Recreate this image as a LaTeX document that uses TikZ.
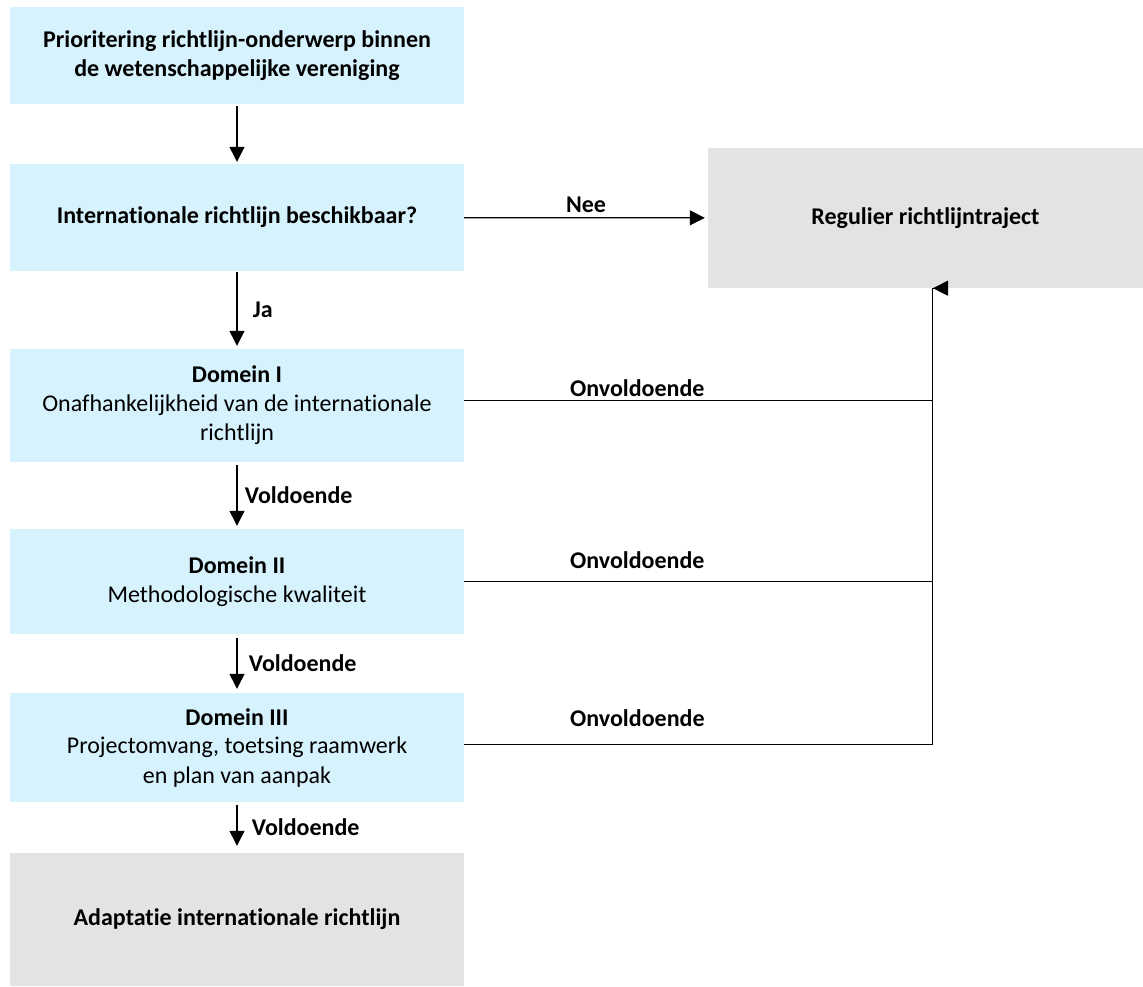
\documentclass[tikz,border=0pt]{standalone}
\usepackage{fontspec}
\setmainfont{Carlito}[Ligatures=NoCommon]
\usepackage{tikz}
\usetikzlibrary{arrows.meta,positioning,calc}
\definecolor{boxblue}{RGB}{214,242,253}
\definecolor{boxgrey}{RGB}{227,227,227}
\newcommand{\diagfont}{\fontsize{24}{29}\selectfont}
\tikzset{
  stepbox/.style={fill=boxblue,align=center,font=\diagfont,
                  minimum width=454pt,inner sep=0pt},
  endbox/.style={fill=boxgrey,align=center,font=\diagfont,inner sep=0pt},
  lbl/.style={font=\diagfont\bfseries},
  conn/.style={line width=1.2pt},
  arr/.style={-{Triangle[length=15pt,width=15pt]},line width=1.2pt},
}

\begin{document}
\begin{tikzpicture}[x=1pt,y=-1pt]
        \useasboundingbox (0,0) rectangle (1143,986);
        \node[stepbox,minimum height=97pt] (prio) at (237,55.5)
          {\textbf{Prioritering richtlijn-onderwerp binnen}\\\textbf{de wetenschappelijke vereniging}};
        \node[stepbox,minimum height=107pt] (intl) at (237,217.5)
          {\textbf{Internationale richtlijn beschikbaar?}};
        \node[endbox,minimum width=435pt,minimum height=140pt] (reg) at (925.5,218)
          {\textbf{Regulier richtlijntraject}};
        \node[stepbox,minimum height=113pt] (dom1) at (237,405.5)
          {\textbf{Domein I}\\Onafhankelijkheid van de internationale\\richtlijn};
        \node[stepbox,minimum height=105pt] (dom2) at (237,581.5)
          {\textbf{Domein II}\\Methodologische kwaliteit};
        \node[stepbox,minimum height=109pt] (dom3) at (237,747.5)
          {\textbf{Domein III}\\Projectomvang, toetsing raamwerk\\en plan van aanpak};
        \node[endbox,minimum width=454pt,minimum height=133pt] (adapt) at (237,919.5)
          {\textbf{Adaptatie internationale richtlijn}};
        \coordinate (regin) at ([xshift=6.5pt]reg.south);
        \draw[arr,shorten <=2pt,shorten >=2pt] (prio)--(intl);
        \draw[arr,shorten <=1pt,shorten >=3pt] (intl)--node[lbl,right=12pt]{Ja} (dom1);
        \draw[arr,shorten <=3pt,shorten >=3pt] (dom1)--node[lbl,right=4pt]{Voldoende} (dom2);
        \draw[arr,shorten <=4pt,shorten >=4pt] (dom2)--node[lbl,right=8pt]{Voldoende} (dom3);
        \draw[arr,shorten <=3pt,shorten >=7pt] (dom3)--node[lbl,right=11pt]{Voldoende} (adapt);
        \draw[arr,shorten >=3pt] (intl)--node[lbl,above=1pt]{Nee} (reg);
        \draw[conn] ([yshift=5pt]dom1.east)--node[lbl,above=0pt,pos=0.37]{Onvoldoende} ([yshift=5pt]dom1.east-|regin);
        \draw[conn] (dom2.east)--node[lbl,above=9pt,pos=0.37]{Onvoldoende} (dom2.east-|regin);
        \draw[arr,shorten >=1pt] ([yshift=3pt]dom3.east)--node[lbl,above=14pt,pos=0.37]{Onvoldoende} ++(468,0)|-(regin);
      \end{tikzpicture}
\end{document}
